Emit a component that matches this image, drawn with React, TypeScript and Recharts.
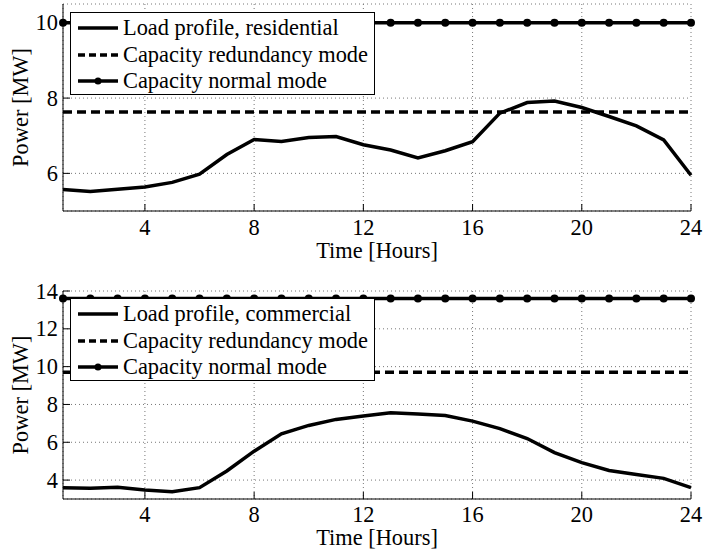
import { LineChart, Line, XAxis, YAxis, CartesianGrid, Legend } from 'recharts';

const HOURS = [1, 2, 3, 4, 5, 6, 7, 8, 9, 10, 11, 12, 13, 14, 15, 16, 17, 18, 19, 20, 21, 22, 23, 24];
const RESIDENTIAL = [5.57, 5.52, 5.58, 5.64, 5.76, 5.98, 6.5, 6.9, 6.85, 6.95, 6.98, 6.76, 6.62, 6.41, 6.6, 6.84, 7.6, 7.88, 7.92, 7.75, 7.51, 7.26, 6.89, 5.95];
const COMMERCIAL = [3.6, 3.57, 3.62, 3.47, 3.39, 3.6, 4.48, 5.53, 6.45, 6.89, 7.21, 7.39, 7.56, 7.49, 7.42, 7.12, 6.72, 6.2, 5.45, 4.92, 4.51, 4.3, 4.09, 3.6];
const RES_REDUNDANCY = 7.63;
const RES_NORMAL = 10;
const COM_REDUNDANCY = 9.7;
const COM_NORMAL = 13.6;

const X_TICKS = [4, 8, 12, 16, 20, 24];
const RES_Y_TICKS = [6, 8, 10];
const COM_Y_TICKS = [4, 6, 8, 10, 12, 14];

const LEGEND_ORDER = ['load', 'redundancy', 'normal'];

const FONT = '"Liberation Serif", "Times New Roman", serif';
const FONT_SIZE = 22.4;

const residentialRows = HOURS.map((hour, i) => ({
    hour,
    load: RESIDENTIAL[i],
    redundancy: RES_REDUNDANCY,
    normal: RES_NORMAL,
}));

const commercialRows = HOURS.map((hour, i) => ({
    hour,
    load: COMMERCIAL[i],
    redundancy: COM_REDUNDANCY,
    normal: COM_NORMAL,
}));

// ticks point inward, like matlab
function XTick({ x, y, payload, baseline }: any) {
    return (
        <g>
            <line x1={x} x2={x} y1={y} y2={y - 7} stroke="#000" />
            <text x={x} y={y + baseline} textAnchor="middle" fontFamily={FONT} fontSize={FONT_SIZE} fill="#000">
                {payload.value}
            </text>
        </g>
    );
}

function YTick({ x, y, payload }: any) {
    return (
        <g>
            <line x1={x} x2={x + 7} y1={y} y2={y} stroke="#000" />
            <text x={x - 5} y={y + 7.5} textAnchor="end" fontFamily={FONT} fontSize={FONT_SIZE} fill="#000">
                {payload.value}
            </text>
        </g>
    );
}

function LegendSample({ kind }: { kind: string }) {
    if (kind === 'redundancy') {
        return (
            <svg width={40} height={12}>
                <line x1={0} x2={40} y1={6} y2={6} stroke="#000" strokeWidth={3.5} strokeDasharray="7 4" />
            </svg>
        );
    }
    return (
        <svg width={40} height={12}>
            <line x1={0} x2={40} y1={6} y2={6} stroke="#000" strokeWidth={3.5} />
            {kind === 'normal' && <circle cx={20} cy={6} r={3.5} fill="#000" />}
        </svg>
    );
}

function LegendBox({ payload }: any) {
    const items = [...(payload || [])].sort(
        (a: any, b: any) => LEGEND_ORDER.indexOf(a.dataKey) - LEGEND_ORDER.indexOf(b.dataKey)
    );
    return (
        <div
            style={{
                background: '#fff',
                border: '1px solid #000',
                boxSizing: 'border-box',
                width: 305,
                height: 83,
                padding: '2px 0 0 7px',
                fontFamily: FONT,
                fontSize: FONT_SIZE,
                color: '#000',
                textAlign: 'left',
            }}
        >
            {items.map((entry: any) => (
                <div key={entry.dataKey} style={{ display: 'flex', alignItems: 'center', height: 26.5, whiteSpace: 'nowrap' }}>
                    <LegendSample kind={entry.dataKey} />
                    <span style={{ marginLeft: 5, lineHeight: '26px' }}>{entry.value}</span>
                </div>
            ))}
        </div>
    );
}

function LoadPanel({ rows, loadName, domain, yTicks, height, margin, legendTop, labelOffset, tickBaseline }: any) {
    return (
        <LineChart width={704} height={height} data={rows} margin={margin}>
            <CartesianGrid strokeDasharray="1 3" stroke="#777" />
            <XAxis
                dataKey="hour"
                type="number"
                domain={[1, 24]}
                ticks={X_TICKS}
                height={47}
                tickSize={0}
                tickMargin={0}
                tickLine={false}
                axisLine={{ stroke: '#000' }}
                tick={<XTick baseline={tickBaseline} />}
                label={{ value: 'Time [Hours]', position: 'insideBottom', offset: labelOffset, fontFamily: FONT, fontSize: FONT_SIZE, fill: '#000' }}
            />
            <YAxis
                type="number"
                domain={domain}
                ticks={yTicks}
                width={63}
                tickSize={0}
                tickMargin={0}
                tickLine={false}
                axisLine={{ stroke: '#000' }}
                tick={<YTick />}
                label={{
                    value: 'Power [MW]',
                    angle: -90,
                    position: 'insideLeft',
                    offset: 20,
                    fontFamily: FONT,
                    fontSize: FONT_SIZE,
                    fill: '#000',
                    style: { textAnchor: 'middle' },
                }}
            />
            <Legend
                layout="vertical"
                align="center"
                verticalAlign="middle"
                content={<LegendBox />}
                wrapperStyle={{ position: 'absolute', left: 70, top: legendTop, width: 305, height: 83 }}
            />
            <Line
                dataKey="load"
                name={loadName}
                type="linear"
                stroke="#000"
                strokeWidth={3.5}
                dot={false}
                isAnimationActive={false}
            />
            <Line
                dataKey="redundancy"
                name="Capacity redundancy mode"
                type="linear"
                stroke="#000"
                strokeWidth={3.5}
                strokeDasharray="9 5"
                dot={false}
                isAnimationActive={false}
            />
            <Line
                dataKey="normal"
                name="Capacity normal mode"
                type="linear"
                stroke="#000"
                strokeWidth={3.5}
                dot={{ r: 4, fill: '#000', stroke: '#000', strokeWidth: 0 }}
                isAnimationActive={false}
            />
        </LineChart>
    );
}

export default function App() {
    return (
        <div style={{ position: 'absolute', left: 0, top: 0, width: 704, height: 549, background: '#fff' }}>
            <LoadPanel
                rows={residentialRows}
                loadName="Load profile, residential"
                domain={[5, 10.5]}
                yTicks={RES_Y_TICKS}
                height={270}
                margin={{ top: 4, right: 13, left: 0, bottom: 12 }}
                legendTop={12}
                labelOffset={0}
                tickBaseline={24}
            />
            <LoadPanel
                rows={commercialRows}
                loadName="Load profile, commercial"
                domain={[3, 14]}
                yTicks={COM_Y_TICKS}
                height={279}
                margin={{ top: 21, right: 13, left: 0, bottom: 3 }}
                legendTop={28}
                labelOffset={1}
                tickBaseline={23}
            />
        </div>
    );
}
